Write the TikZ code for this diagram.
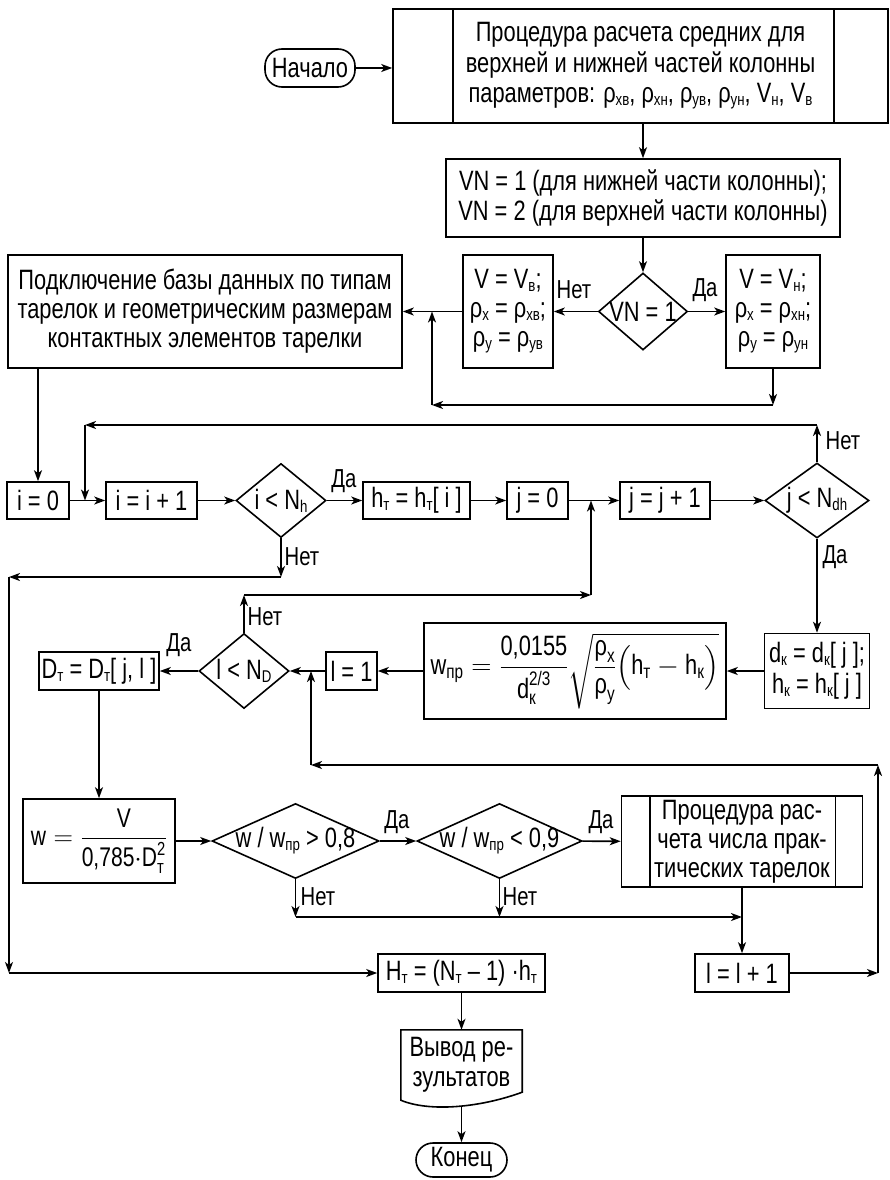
\documentclass[tikz,border=0pt]{standalone}
\usepackage{fix-cm}
\usepackage{amsmath}
\usepackage{graphicx}
\usepackage{fontspec}
\setmainfont{Liberation Sans}[FakeStretch=0.78]
\usetikzlibrary{arrows.meta,shapes.geometric,calc}
\newcommand\ix[1]{\raisebox{-3pt}{\fontsize{17}{17}\selectfont #1}}
\newcommand\dtext[1]{\makebox[0pt]{#1}}
\begin{document}
\begin{tikzpicture}[x=1pt,y=-1pt,
  >={Stealth[length=11pt,width=8pt,inset=3pt]},
  every node/.style={font=\fontsize{28}{30.5}\selectfont},
  box/.style={draw, rectangle, line width=1.6pt, inner sep=0pt, align=center},
  dia/.style={draw, diamond, line width=1.6pt, inner sep=0pt},
  term/.style={draw, rectangle, rounded corners=17pt, line width=1.6pt, inner sep=0pt},
  con/.style={line width=1.6pt, ->},
  lin/.style={line width=1.6pt},
  lbl/.style={font=\fontsize{26}{26}\selectfont, inner sep=0pt},
]
\useasboundingbox (0,0) rectangle (890,1180);

% ---- top
\node[term, minimum width=90, minimum height=38] (start) at (310,68) {Начало};
\node[box, minimum width=495, minimum height=114] (proc1) at (640.5,66)
  {Процедура расчета средних для\\верхней и нижней частей колонны\\параметров: ρ\ix{xв}, ρ\ix{xн}, ρ\ix{yв}, ρ\ix{yн}, V\ix{н}, V\ix{в}};
\draw[lin] ($(proc1.north west)+(61,0)$) -- ($(proc1.south west)+(61,0)$);
\draw[lin] ($(proc1.north east)+(-55,0)$) -- ($(proc1.south east)+(-55,0)$);
\node[box, minimum width=394, minimum height=78] (vn) at (643,198)
  {VN = 1 (для нижней части колонны);\\VN = 2 (для верхней части колонны)};
\node[dia, minimum width=89, minimum height=77] (d1) at (643,311.5) {\dtext{VN = 1}};
\node[box, minimum width=90, minimum height=113, font=\fontsize{28}{29}\selectfont] (lv) at (508,311.5)
  {V = V\ix{в};\\ρ\ix{x} = ρ\ix{xв};\\ρ\ix{y} = ρ\ix{yв}};
\node[box, minimum width=94, minimum height=113, font=\fontsize{28}{29}\selectfont] (rv) at (773,311.5)
  {V = V\ix{н};\\ρ\ix{x} = ρ\ix{xн};\\ρ\ix{y} = ρ\ix{yн}};
\node[box, minimum width=394, minimum height=113, font=\fontsize{28}{29}\selectfont] (pod) at (205,311.5)
  {Подключение базы данных по типам\\тарелок и геометрическим размерам\\контактных элементов тарелки};

% ---- row i / j
\node[box, minimum width=62, minimum height=37] (i0) at (38,500.5) {i = 0};
\node[box, minimum width=91, minimum height=37] (i1) at (151.5,500.5) {i = i + 1};
\node[dia, minimum width=90, minimum height=74] (d2) at (281,500.5) {\dtext{i < N\ix{h}}};
\node[box, minimum width=107, minimum height=37] (ht) at (416.5,500.5) {h\ix{т} = h\ix{т}[ i ]};
\node[box, minimum width=61, minimum height=37] (j0) at (537.5,500.5) {j = 0};
\node[box, minimum width=90, minimum height=37] (j1) at (665,500.5) {j = j + 1};
\node[dia, minimum width=104, minimum height=75] (d3) at (817,500.5) {\dtext{j < N\ix{dh}}};

% ---- row l
\node[box, minimum width=120, minimum height=38] (dd) at (99,671) {D\ix{т} = D\ix{т}[ j, l ]};
\node[dia, minimum width=90, minimum height=75] (d4) at (244,671) {\dtext{l < N\ix{D}}};
\node[box, minimum width=51, minimum height=38] (l1) at (351.5,671) {l = 1};
\node[box, minimum width=302, minimum height=96, font=\fontsize{28}{30}\selectfont] (fm) at (575,671)
  {$\text{w}_{\text{пр}} = \dfrac{\text{0,0155}}{\text{d}_{\text{к}}^{\text{2/3}}}\sqrt{\dfrac{\text{ρ}_{\text{x}}}{\text{ρ}_{\text{y}}}\bigl(\text{h}_{\text{т}} - \text{h}_{\text{к}}\bigr)}$};
\node[box, minimum width=152, minimum height=84, font=\fontsize{27}{29}\selectfont] (w) at (99,841)
  {$\text{w} = \dfrac{\text{V}}{\text{0,785}{\cdot}\text{D}_{\text{т}}^{\text{2}}}$};
\node[box, minimum width=105, minimum height=75] (dk) at (817,671)
  {d\ix{к} = d\ix{к}[ j ];\\h\ix{к} = h\ix{к}[ j ]};

% ---- row w
\node[dia, minimum width=167, minimum height=75] (d5) at (295.5,841) {\dtext{w / w\ix{пр} > 0,8}};
\node[dia, minimum width=165, minimum height=75] (d6) at (499.5,841) {\dtext{w / w\ix{пр} < 0,9}};
\node[box, minimum width=241, minimum height=91, font=\fontsize{28}{29}\selectfont] (proc2) at (742,841.5)
  {Процедура рас-\\чета числа прак-\\тических тарелок};
\draw[lin] ($(proc2.north west)+(29,0)$) -- ($(proc2.south west)+(29,0)$);
\draw[lin] ($(proc2.north east)+(-28,0)$) -- ($(proc2.south east)+(-28,0)$);

% ---- bottom
\node[box, minimum width=167, minimum height=38] (hh) at (461.5,973) {H\ix{т} = (N\ix{т} – 1) ·h\ix{т}};
\node[box, minimum width=94, minimum height=38] (l2) at (742,973) {l = l + 1};
\node[inner sep=0pt, minimum width=121, minimum height=70, align=center] (doc) at (461.5,1065) {Вывод ре-\\зультатов};
\draw[lin] (doc.south west) -- (doc.north west) -- (doc.north east) -- ($(doc.south east)+(0,-8)$)
  .. controls (479,1108) and (429,1112) .. (doc.south west) -- cycle;
\node[term, minimum width=91, minimum height=34] (fin) at (461.5,1160) {Конец};

% ---- connectors
\draw[con] (start.east) -- (start.east -| proc1.west);
\draw[con] (vn.north |- proc1.south) -- (vn.north);
\draw[con] (vn.south) -- (d1.north);
\draw[con] (d1.west) -- (lv.east);
\draw[con] (d1.east) -- (rv.west);
\draw[con] (lv.west) -- (pod.east);
\coordinate (c1) at (773,405);
\coordinate (c2) at (432,405);
\draw[con] (rv.south) -- (c1);
\draw[con] (c1) -- (c2);
\draw[con] (c2) -- (c2 |- pod.east);
\draw[con] (i0.north |- pod.south) -- (i0.north);
\draw[con] (i0) -- (i1);
\draw[con] (i1) -- (d2);
\draw[con] (d2) -- (ht);
\draw[con] (ht) -- (j0);
\draw[con] (j0) -- (j1);
\draw[con] (j1) -- (d3);
\coordinate (c3) at (817,425);
\coordinate (c4) at (85,425);
\draw[con] (d3.north) -- (c3);
\draw[con] (c3) -- (c4);
\draw[con] (c4) -- (c4 |- i0.east);
\draw[con] (d3.south) -- (dk.north);
\draw[con] (dk) -- (fm);
\draw[con] (fm) -- (l1);
\draw[con] (l1) -- (d4);
\draw[con] (d4) -- (dd);
\coordinate (c8) at (244,595);
\coordinate (c9) at (591,595);
\draw[con] (d4.north) -- (c8);
\draw[con] (c8) -- (c9);
\draw[con] (c9) -- (c9 |- j0.east);
\coordinate (c5) at (281,577);
\coordinate (c6) at (9,577);
\coordinate (c7) at (9,973);
\draw[con] (d2.south) -- (c5);
\draw[con] (c5) -- (c6);
\draw[con] (c6) -- (c7);
\draw[con] (c7) -- (hh.west);
\draw[con] (dd.south) -- (w.north);
\draw[con] (w) -- (d5);
\draw[con] (d5) -- (d6);
\draw[con] (d6) -- (proc2);
\coordinate (c10) at (295.5,917);
\coordinate (c11) at (499.5,917);
\coordinate (c12) at (742,917);
\draw[con] (d5.south) -- (c10);
\draw[con] (d6.south) -- (c11);
\draw[con] (c10) -- (c12);
\draw[con] (proc2.south) -- (l2.north);
\coordinate (c13) at (878,973);
\coordinate (c14) at (878,765);
\coordinate (c15) at (311,765);
\draw[con] (l2) -- (c13);
\draw[con] (c13) -- (c14);
\draw[con] (c14) -- (c15);
\draw[con] (c15) -- (c15 |- l1.west);
\draw[con] (hh) -- (doc.north);
\coordinate (docb) at (461.5,1106.5);
\draw[con] (docb) -- (fin);

% ---- labels
\node[lbl] (n1) at (574,290) {Нет};
\node[lbl] (y1) at (705,290) {Да};
\node[lbl] (y2) at (344,481) {Да};
\node[lbl] (n2) at (302,557) {Нет};
\node[lbl] (n3) at (843,441) {Нет};
\node[lbl] (y3) at (835,557) {Да};
\node[lbl] (n4) at (265,617) {Нет};
\node[lbl] (y4) at (179,645) {Да};
\node[lbl] (y5) at (397,822) {Да};
\node[lbl] (y6) at (601,822) {Да};
\node[lbl] (n5) at (318,897) {Нет};
\node[lbl] (n6) at (520,897) {Нет};
\end{tikzpicture}
\end{document}
